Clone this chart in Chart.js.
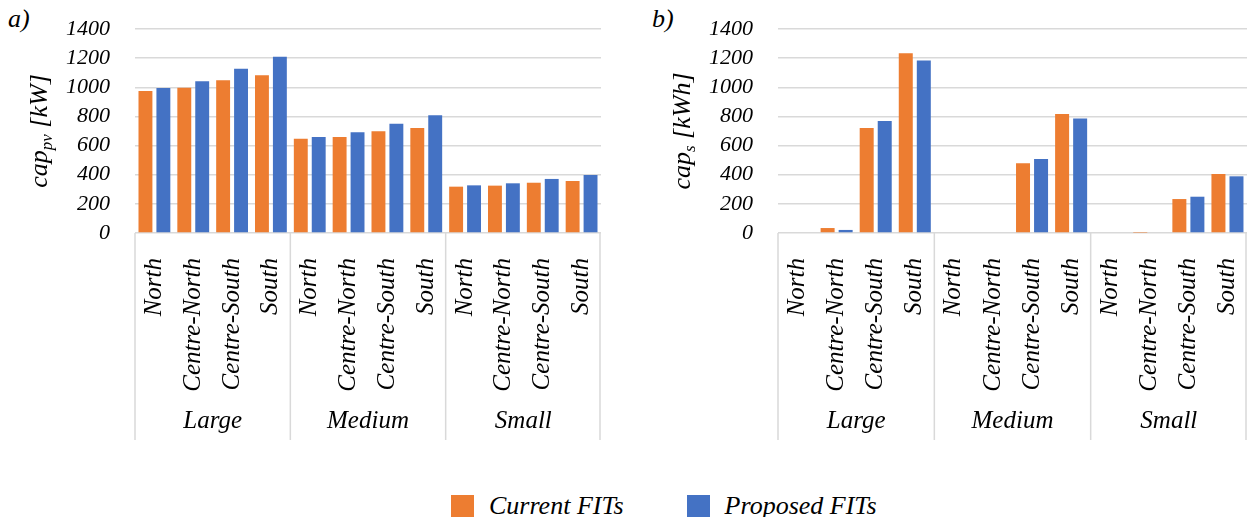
<!DOCTYPE html>
<html lang="en">
<head>
<meta charset="UTF-8">
<title>cap pv / cap s</title>
<script src="https://cdn.jsdelivr.net/npm/chart.js"></script>
<style>
  body { margin: 0; width: 1247px; height: 517px; background: #fff; position: relative; overflow: hidden;
         font-family: "Liberation Serif", serif; font-style: italic; color: #000; }
  .painel { position: absolute; top: 0; height: 460px; }
  #painelA { left: 0; width: 620px; }
  #painelB { left: 640px; width: 607px; }
  .letra { position: absolute; top: 4px; font-size: 26px; }
  #legenda { position: absolute; left: 451px; top: 491px; display: flex; align-items: center; font-size: 26px; }
  #legenda .item { display: flex; align-items: center; margin-right: 63px; }
  #legenda .caixa { width: 23px; height: 23px; margin-right: 15px; }
</style>
</head>
<body>
  <div class="letra" style="left:8px">a)</div>
  <div class="letra" style="left:652px">b)</div>
  <div class="painel" id="painelA"><canvas id="graficoA"></canvas></div>
  <div class="painel" id="painelB"><canvas id="graficoB"></canvas></div>
  <div id="legenda"></div>

<script>
  // dados
  const grupos = ['Large', 'Medium', 'Small'];
  const regioes = ['North', 'Centre-North', 'Centre-South', 'South'];
  const series = ['Current FITs', 'Proposed FITs'];
  const cores = ['#ED7D31', '#4472C4'];

  // a) cap_pv [kW]
  const pvAtual    = [974, 997, 1048, 1082, 647, 659, 698, 721, 318, 325, 345, 357];
  const pvProposta = [995, 1041, 1128, 1210, 659, 691, 750, 808, 327, 341, 371, 398];
  // b) cap_s [kWh]
  const armAtual    = [0, 34, 721, 1233, 0, 5, 478, 817, 0, 2, 233, 405];
  const armProposta = [0, 21, 769, 1183, 0, 0, 508, 785, 0, 0, 249, 389];

  const yTicks = [0, 200, 400, 600, 800, 1000, 1200, 1400];

  // rótulos do eixo x: regiões repetidas para cada grupo
  let categorias = [];
  for (let g = 0; g < grupos.length; g++) {
    for (let r = 0; r < regioes.length; r++) categorias.push(regioes[r]);
  }

  const fonte = '"Liberation Serif"';
  const corGrade = '#d9d9d9';

  // desenha separadores dos grupos, nomes dos grupos e o título do eixo y (com subscrito)
  const pluginGrupos = {
    id: 'grupos',
    afterDraw(chart, args, opts) {
      const ctx = chart.ctx;
      const x = chart.scales.x;
      const area = chart.chartArea;
      const passo = regioes.length;
      ctx.save();
      ctx.strokeStyle = corGrade;
      ctx.lineWidth = 1.5;
      for (let g = 0; g <= grupos.length; g++) {
        let px;
        if (g === 0) px = area.left;
        else if (g === grupos.length) px = area.right - 1;
        else px = (x.getPixelForValue(g * passo - 1) + x.getPixelForValue(g * passo)) / 2;
        ctx.beginPath();
        ctx.moveTo(px, area.bottom);
        ctx.lineTo(px, area.bottom + 207);
        ctx.stroke();
      }
      ctx.fillStyle = '#000';
      ctx.font = 'italic 25px ' + fonte;
      ctx.textAlign = 'center';
      ctx.textBaseline = 'alphabetic';
      grupos.forEach(function (nome, g) {
        const c = (x.getPixelForValue(g * passo) + x.getPixelForValue(g * passo + passo - 1)) / 2;
        ctx.fillText(nome, c, area.bottom + 195);
      });

      // título do eixo y
      const grande = 'italic 26px ' + fonte;
      const pequeno = 'italic 17px ' + fonte;
      ctx.font = grande;
      const w1 = ctx.measureText('cap').width;
      const w3 = ctx.measureText(opts.unidade).width;
      ctx.font = pequeno;
      const w2 = ctx.measureText(opts.sub).width;
      const total = w1 + w2 + w3;
      ctx.translate(opts.tituloX, (area.top + area.bottom) / 2);
      ctx.rotate(-Math.PI / 2);
      ctx.textAlign = 'left';
      let pos = -total / 2;
      ctx.font = grande;
      ctx.fillText('cap', pos, 0);
      pos += w1;
      ctx.font = pequeno;
      ctx.fillText(opts.sub, pos, 5);
      pos += w2;
      ctx.font = grande;
      ctx.fillText(opts.unidade, pos, 0);
      ctx.restore();
    }
  };

  function criarGrafico(id, atual, proposta, larguraY, sub, unidade, tituloX, direita) {
    const dados = {
      labels: categorias,
      datasets: [
        { label: series[0], data: atual, backgroundColor: cores[0] },
        { label: series[1], data: proposta, backgroundColor: cores[1] }
      ]
    };

    const config = {
      type: 'bar',
      data: dados,
      plugins: [pluginGrupos],
      options: {
        responsive: true,
        maintainAspectRatio: false,
        animation: false,
        datasets: { bar: { categoryPercentage: 0.923, barPercentage: 0.776 } },
        layout: { padding: { top: 29, right: direita, bottom: 0, left: 0 } },
        plugins: {
          legend: { display: false },
          tooltip: { enabled: false },
          grupos: { sub: sub, unidade: unidade, tituloX: tituloX }
        },
        scales: {
          x: {
            grid: { display: false },
            border: { display: false },
            ticks: {
              autoSkip: false, maxRotation: 90, minRotation: 90, padding: 17,
              color: '#000',
              font: { family: fonte, style: 'italic', size: 25 }
            },
            afterFit: function (scale) {
              scale.height = 227;
              scale.paddingLeft = 0;
              scale.paddingRight = 0;
            }
          },
          y: {
            min: 0, max: 1400,
            afterBuildTicks: function (scale) { scale.ticks = yTicks.map(v => ({ value: v })); },
            grid: { color: corGrade, lineWidth: 1.5, drawTicks: false },
            border: { display: false },
            ticks: {
              autoSkip: false, padding: 25, color: '#000',
              callback: function (v) { return String(v); },
              font: { family: fonte, style: 'italic', size: 22 }
            },
            afterFit: function (scale) {
              scale.width = larguraY;
              scale.paddingTop = 0;
              scale.paddingBottom = 0;
            }
          }
        }
      }
    };

    return new Chart(document.getElementById(id), config);
  }

  criarGrafico('graficoA', pvAtual, pvProposta, 135, 'pv', ' [kW]', 47, 19);
  criarGrafico('graficoB', armAtual, armProposta, 138, 's', ' [kWh]', 50, 0);

  // legenda comum
  const legenda = document.getElementById('legenda');
  series.forEach(function (nome, i) {
    const item = document.createElement('div');
    item.className = 'item';
    item.innerHTML = '<div class="caixa" style="background:' + cores[i] + '"></div><span>' + nome + '</span>';
    legenda.appendChild(item);
  });
</script>
</body>
</html>
